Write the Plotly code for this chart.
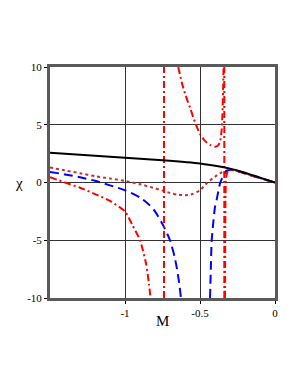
import plotly.graph_objects as go

# ---- data ----
black_x = [-1.5, -1.25, -1.0, -0.75, -0.5, -0.4, -0.3, -0.2, -0.1, 0.0]
black_y = [2.57, 2.37, 2.15, 1.93, 1.65, 1.45, 1.2, 0.85, 0.42, 0.0]

red1_x = [-1.5, -1.4, -1.3, -1.2, -1.1, -1.0, -0.95, -0.9, -0.86, -0.84, -0.83]
red1_y = [0.46, 0.0, -0.45, -1.0, -1.6, -2.5, -3.7, -5.0, -7.0, -8.8, -10.0]

red2_x = [-0.645, -0.62, -0.6, -0.567, -0.533, -0.5, -0.467, -0.433, -0.4, -0.38, -0.367, -0.356, -0.35, -0.346, -0.343]
red2_y = [10.0, 8.6, 7.7, 6.5, 5.2, 4.2, 3.6, 3.25, 3.1, 3.2, 3.5, 4.5, 6.0, 8.0, 10.0]

red3_x = [-0.333, -0.332, -0.33, -0.325, -0.315, -0.3, -0.28, -0.25, -0.2, -0.15, -0.1, -0.05, 0.0]
red3_y = [-10.0, -5.0, -1.0, 0.5, 0.95, 1.08, 1.08, 1.0, 0.78, 0.57, 0.38, 0.19, 0.0]

asym_x = [-0.74, -0.338]
asym_y = [-10.0, 10.0]

blue1_x = [-1.5, -1.4, -1.3, -1.2, -1.1, -1.0, -0.9, -0.833, -0.8, -0.75, -0.7, -0.67, -0.656, -0.64, -0.627]
blue1_y = [0.92, 0.7, 0.45, 0.15, -0.25, -0.67, -1.3, -2.0, -2.5, -3.6, -5.0, -6.4, -7.3, -8.6, -10.0]

blue2_x = [-0.433, -0.428, -0.422, -0.41, -0.4, -0.389, -0.367, -0.344, -0.322, -0.3, -0.28, -0.25, -0.2, -0.15, -0.1, -0.05, 0.0]
blue2_y = [-10.0, -7.5, -5.0, -3.3, -2.1, -1.5, -0.1, 0.63, 1.0, 1.08, 1.08, 1.0, 0.78, 0.57, 0.38, 0.19, 0.0]

dot_x = [-1.5, -1.4, -1.3, -1.2, -1.1, -1.0, -0.9, -0.833, -0.75, -0.7, -0.65, -0.6, -0.55, -0.5, -0.45, -0.4, -0.367, -0.333, -0.3, -0.25, -0.2, -0.1, 0.0]
dot_y = [1.3, 1.05, 0.8, 0.55, 0.35, 0.14, -0.15, -0.38, -0.7, -0.9, -1.05, -1.1, -1.0, -0.67, 0.0, 0.5, 0.8, 1.0, 1.1, 1.0, 0.8, 0.38, 0.0]

x_ticks = [-1.0, -0.5, 0.0]
x_ticktext = ["-1", "-0.5", "0"]
y_ticks = [-10, -5, 0, 5, 10]
y_ticktext = ["-10", "-5", "0", "5", "10"]

RED = "#ff0000"
BLUE = "#0000ff"
DOTC = "#c03030"
DASHDOT = "7px,3px,2px,3px"


def curve(xs, ys, color, dash):
    return go.Scatter(x=xs, y=ys, mode="lines",
                      line=dict(color=color, width=2, dash=dash, shape="spline", smoothing=0.6))


fig = go.Figure()
fig.add_trace(curve(dot_x, dot_y, DOTC, "dot"))
fig.add_trace(curve(blue1_x, blue1_y, BLUE, "9px,5px"))
fig.add_trace(curve(blue2_x, blue2_y, BLUE, "9px,5px"))
for ax in asym_x:
    fig.add_trace(go.Scatter(x=[ax, ax], y=asym_y, mode="lines",
                             line=dict(color=RED, width=2, dash=DASHDOT)))
fig.add_trace(curve(red1_x, red1_y, RED, DASHDOT))
fig.add_trace(curve(red2_x, red2_y, RED, DASHDOT))
fig.add_trace(curve(red3_x, red3_y, RED, DASHDOT))
fig.add_trace(curve(black_x, black_y, "black", "solid"))

axis_common = dict(
    showgrid=True, gridcolor="#333333", gridwidth=1,
    showline=True, linecolor="#5a5a5a", linewidth=3, mirror=True,
    ticks="outside", ticklen=3, tickcolor="black", tickwidth=1,
    zeroline=False,
    tickfont=dict(family="Liberation Serif", size=11, color="black"),
)

fig.update_layout(
    width=292, height=380,
    margin=dict(l=42, r=25, t=59, b=90),
    paper_bgcolor="white", plot_bgcolor="white",
    showlegend=False,
    xaxis=dict(range=[-1.5, 0], tickvals=x_ticks, ticktext=x_ticktext, **axis_common),
    yaxis=dict(range=[-10, 10], tickvals=y_ticks, ticktext=y_ticktext, **axis_common),
    annotations=[
        dict(text="M", xref="paper", yref="paper", x=0.5, y=-0.056, showarrow=False,
             xanchor="center", yanchor="top",
             font=dict(family="Liberation Serif", size=15, color="black")),
        dict(text="χ", xref="paper", yref="paper", x=-0.11, y=0.5, showarrow=False,
             xanchor="right", yanchor="middle",
             font=dict(family="Liberation Serif", size=15, color="black")),
    ],
)

fig.write_html("out.html")
